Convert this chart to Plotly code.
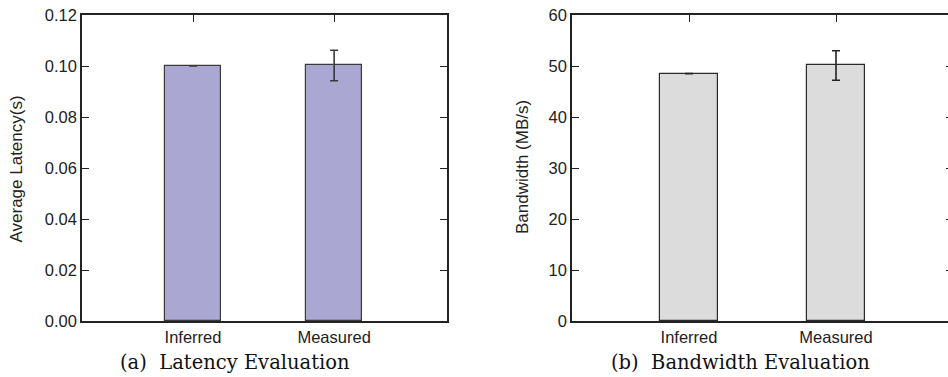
import plotly.graph_objects as go

# Categories shared by both panels
methods = ["Inferred", "Measured"]

# Panel (a): average latency in seconds, with standard deviation
latency = [0.100, 0.1002]
latency_err = [0.0, 0.006]

# Panel (b): bandwidth in MB/s, with standard deviation
bandwidth = [48.5, 50.1]
bandwidth_err = [0.0, 2.9]

latency_ticks = [0.00, 0.02, 0.04, 0.06, 0.08, 0.10, 0.12]
latency_ticktext = ["0.00", "0.02", "0.04", "0.06", "0.08", "0.10", "0.12"]
bandwidth_ticks = [0, 10, 20, 30, 40, 50, 60]

W, H = 956, 377
TOP, BOTTOM = 15, 321

def px_x(p):
    return p / W

def px_y(p):
    return (BOTTOM - p) / (BOTTOM - TOP)

sans = "Liberation Sans, Arial, sans-serif"
serif = "DejaVu Serif, serif"
ink = "#222222"

fig = go.Figure()

fig.add_trace(go.Bar(
    x=[0, 1], y=latency, width=0.4,
    marker=dict(color="#aaa8d2", line=dict(color="#3a3a3a", width=1.2)),
    error_y=dict(type="data", array=latency_err, visible=True,
                 color="#3a3a3a", thickness=1.6, width=4),
    xaxis="x", yaxis="y", showlegend=False,
))

fig.add_trace(go.Bar(
    x=[0, 1], y=bandwidth, width=0.4,
    marker=dict(color="#dcdcdc", line=dict(color="#2a2a2a", width=1.2)),
    error_y=dict(type="data", array=bandwidth_err, visible=True,
                 color="#222222", thickness=1.6, width=4),
    xaxis="x2", yaxis="y2", showlegend=False,
))

axis_common = dict(
    showline=True, linecolor=ink, linewidth=1.6, mirror="ticks",
    ticks="inside", ticklen=7, tickwidth=1.2, tickcolor=ink,
    showgrid=False, zeroline=False,
    tickfont=dict(family=sans, size=16.5, color=ink),
    layer="below traces",
)

fig.update_layout(
    width=W, height=H,
    margin=dict(l=0, r=0, t=TOP, b=H - BOTTOM, pad=0),
    paper_bgcolor="white", plot_bgcolor="white",
    bargap=0,
    xaxis=dict(domain=[px_x(82), px_x(447)], range=[-0.787, 1.80],
               tickvals=[0, 1], ticktext=methods, anchor="y", **axis_common),
    yaxis=dict(domain=[0, 1], range=[0, 0.12], tickvals=latency_ticks,
               ticktext=latency_ticktext, anchor="x", **axis_common),
    xaxis2=dict(domain=[px_x(572), px_x(953)], range=[-0.796, 1.796],
                tickvals=[0, 1], ticktext=methods, anchor="y2", **axis_common),
    yaxis2=dict(domain=[0, 1], range=[0, 60], tickvals=bandwidth_ticks,
                anchor="x2", **axis_common),
)

annotations = [
    dict(text="Average Latency(s)", x=px_x(15.5), y=px_y(169), textangle=-90,
         font=dict(family=sans, size=17, color=ink)),
    dict(text="Bandwidth (MB/s)", x=px_x(522), y=px_y(167), textangle=-90,
         font=dict(family=sans, size=17, color=ink)),
    dict(text="(a)  Latency Evaluation", x=px_x(235), y=px_y(362),
         font=dict(family=serif, size=19.5, color="#111111")),
    dict(text="(b)  Bandwidth Evaluation", x=px_x(740), y=px_y(362),
         font=dict(family=serif, size=19.5, color="#111111")),
]
for a in annotations:
    fig.add_annotation(xref="paper", yref="paper", showarrow=False,
                       xanchor="center", yanchor="middle", **a)

fig.write_html(
    "out.html",
    post_script="document.documentElement.style.overflow='hidden';"
                "document.body.style.overflow='hidden';",
)
